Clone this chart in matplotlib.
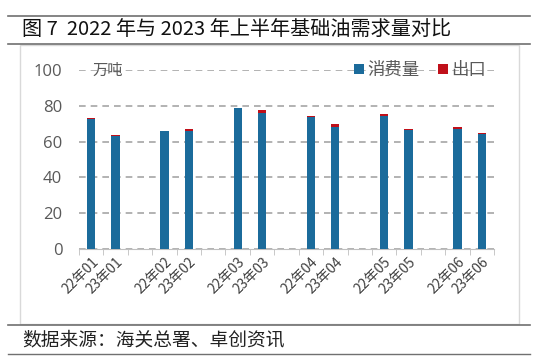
import numpy as np
import matplotlib.pyplot as plt
from matplotlib.patches import Rectangle
from matplotlib.lines import Line2D

plt.rcParams['font.family'] = ['Noto Sans CJK SC', 'DejaVu Sans']

# data (万吨)
months = ['01', '02', '03', '04', '05', '06']
consume_22 = [72.8, 65.8, 78.5, 73.5, 74.3, 67.3]
export_22 = [0.3, 0.4, 0.5, 0.7, 1.0, 0.8]
consume_23 = [63.4, 65.8, 75.9, 68.1, 66.5, 64.4]
export_23 = [0.3, 1.1, 1.9, 1.6, 0.6, 0.5]

# build 17 slots: 22, 23, gap, ...
labels, cons, expo = [], [], []
for i, m in enumerate(months):
    labels += ['22年' + m, '23年' + m]
    cons += [consume_22[i], consume_23[i]]
    expo += [export_22[i], export_23[i]]
    if i < len(months) - 1:
        labels.append('')
        cons.append(np.nan)
        expo.append(np.nan)
x = np.arange(len(labels))

blue = '#1b6b9b'
red = '#c0101a'
gray = '#595959'

fig = plt.figure(figsize=(5.39, 3.62), dpi=100)
W, H = 539, 362

# header / footer rules and frame
fig.add_artist(Line2D([8 / W, 530 / W], [1 - 16 / H, 1 - 16 / H], color='#707070', lw=1.2))
fig.add_artist(Line2D([8 / W, 530 / W], [1 - 44 / H, 1 - 44 / H], color='#707070', lw=1.2))
fig.add_artist(Line2D([8 / W, 530 / W], [1 - 325 / H, 1 - 325 / H], color='#707070', lw=1.2))
fig.add_artist(Line2D([8 / W, 530 / W], [1 - 354 / H, 1 - 354 / H], color='#707070', lw=1.0))
fig.add_artist(Rectangle((20 / W, 1 - 324 / H), 499 / W, 279 / H, fill=False,
                         ec='#d9d9d9', lw=1.0, transform=fig.transFigure))

fig.text(22 / W, 1 - 30 / H, '图 7  2022 年与 2023 年上半年基础油需求量对比',
         fontsize=14.5, va='center', ha='left', color='#111111')
fig.text(22 / W, 1 - 340 / H, '数据来源：海关总署、卓创资讯',
         fontsize=13.5, va='center', ha='left', color='#222222')

ax = fig.add_axes([79 / W, 1 - 249 / H, 415 / W, 179 / H])
ax.bar(x, cons, width=0.34, color=blue, label='消费量', zorder=3)
ax.bar(x, expo, width=0.34, bottom=cons, color=red, label='出口', zorder=3)

ax.set_xlim(-0.5, len(labels) - 0.5)
ax.set_ylim(0, 100)
ax.set_yticks(range(0, 101, 20))
ax.tick_params(axis='y', length=0, labelsize=12, labelcolor=gray, pad=12)
for t in ax.get_yticklabels():
    t.set_fontfamily(['Open Sans', 'DejaVu Sans'])
ax.yaxis.grid(True, linestyle=(0, (4, 3)), color='#a6a6a6', lw=1.2, zorder=0)

ax.set_xticks(x)
ax.set_xticklabels(labels, rotation=45, ha='right', rotation_mode='anchor',
                   fontsize=10, color='#404040')
ax.tick_params(axis='x', length=0, pad=4)
# small ticks on slot boundaries
ax.set_xticks(np.arange(-0.5, len(labels), 1), minor=True)
ax.tick_params(axis='x', which='minor', length=4, color='#bfbfbf', direction='out')

for s in ['top', 'right', 'left']:
    ax.spines[s].set_visible(False)
ax.spines['bottom'].set_color('#bfbfbf')

ax.text(0.05, 100, '万吨', fontsize=11, color=gray, va='center', ha='left', zorder=5)

leg = ax.legend(loc='center right', bbox_to_anchor=(0.985, 1.0), ncol=2, frameon=False,
                fontsize=12.5, handlelength=0.55, handleheight=0.55, handletextpad=0.2,
                columnspacing=1.1, borderpad=0.1, borderaxespad=0)
for t in leg.get_texts():
    t.set_color(gray)

fig.savefig('out.png', dpi=100)
